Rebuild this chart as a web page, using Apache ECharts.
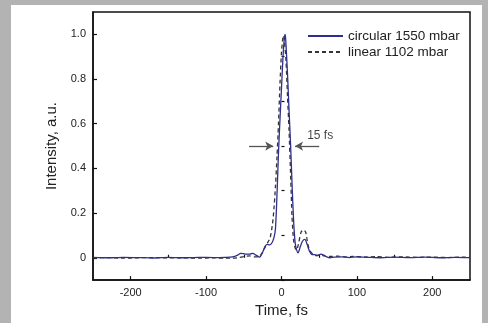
<!DOCTYPE html>
<html>
<head>
<meta charset="utf-8">
<script src="https://cdn.jsdelivr.net/npm/echarts@6/dist/echarts.min.js"></script>
<style>
html,body{margin:0;padding:0;background:#b3b3b3;width:488px;height:323px;overflow:hidden;}
#chart{position:absolute;left:11px;top:5px;width:471px;height:318px;background:#fff;}
</style>
</head>
<body>
<div id="chart"></div>
<script>
// Circular polarization, 1550 mbar (solid)
const circTime = [-250,-230,-210,-190,-170,-150,-130,-110,-90,-75,-65,-58,-54,-48,-42,-38,-34,-29,-25,-22,-19,-16,-13,-10,-8,-6,-4,-2,0,2,4,5,6,8,10,12,14,16,18,20,22,25,28,31,34,37,40,44,48,52,56,60,64,70,80,90,100,115,130,150,170,190,210,230,250];
const circValues = [0.002,0.0,0.002,0.001,-0.001,0.002,0.0,0.002,0.001,0.002,0.004,0.012,0.02,0.016,0.016,0.02,0.012,0.003,0.025,0.05,0.06,0.058,0.065,0.09,0.13,0.28,0.47,0.62,0.76,0.9,0.99,1.0,0.95,0.82,0.66,0.51,0.33,0.17,0.07,0.035,0.022,0.05,0.075,0.082,0.06,0.03,0.015,0.014,0.01,0.016,0.012,0.004,0.0,0.003,0.004,0.001,0.004,0.002,0.0,0.003,0.001,0.003,0.0,0.002,0.001];
// Linear polarization, 1102 mbar (dashed)
const linTime = [-250,-230,-210,-190,-170,-150,-130,-110,-90,-75,-65,-58,-50,-42,-36,-30,-26,-22,-18,-15,-12,-10,-8,-6,-4,-2,0,2,3,4,6,8,10,12,14,16,18,20,23,26,29,32,35,38,42,46,50,55,60,65,75,85,95,110,125,140,160,180,200,220,240,250];
const linValues = [-0.001,0.001,-0.002,0.0,0.001,-0.001,0.0,-0.002,0.0,-0.002,-0.002,0.0,0.005,0.008,0.004,0.005,0.02,0.045,0.07,0.09,0.15,0.22,0.32,0.45,0.6,0.78,0.92,0.99,0.995,0.97,0.88,0.72,0.57,0.38,0.18,0.08,0.045,0.035,0.07,0.115,0.125,0.115,0.06,0.03,0.015,0.01,0.012,0.01,0.005,0.006,0.007,0.004,0.006,0.003,0.005,0.002,0.004,0.002,0.003,0.001,0.003,0.002];
const seriesNames = ['circular 1550 mbar','linear 1102 mbar'];
const xMajorTicks = [-200,-100,0,100,200];
const xMinorTicks = [-150,-50,50,150];
const yMajorTicks = [0,0.2,0.4,0.6,0.8,1.0];
const yMinorTicks = [-0.1,0.1,0.3,0.5,0.7,0.9];
// FWHM annotation
const fwhmLeftArrow = [[-43,0.5],[-11,0.5]];
const fwhmRightArrow = [[50,0.5],[18,0.5]];
const fwhmLabel = [34,0.545];
const fwhmText = '15 fs';

const circData = circTime.map((t,i)=>[t,circValues[i]]);
const linData = linTime.map((t,i)=>[t,linValues[i]]);

const font = 'Liberation Sans, Arial, sans-serif';
const axisLineStyle = {color:'#111', width:1.5};

const chart = echarts.init(document.getElementById('chart'), null, {renderer:'canvas'});
chart.setOption({
  animation:false,
  backgroundColor:'#fff',
  grid:{left:82, top:7, right:12, bottom:38, show:true, borderColor:'#111', borderWidth:1.5},
  legend:{
    data:seriesNames, orient:'vertical', left:291, top:19,
    itemWidth:35, itemHeight:14, itemGap:2,
    itemStyle:{opacity:0},
    textStyle:{fontFamily:font, fontSize:13.5, color:'#222'}
  },
  xAxis:[{
    type:'value', min:-250, max:250,
    name:'Time, fs', nameLocation:'middle', nameGap:21,
    nameTextStyle:{fontFamily:font, fontSize:15, color:'#222'},
    axisLine:{show:true, onZero:false, lineStyle:axisLineStyle},
    axisTick:{show:true, inside:true, length:4, customValues:xMajorTicks, lineStyle:{color:'#111', width:1.2}},
    axisLabel:{show:true, customValues:xMajorTicks, margin:7, fontFamily:font, fontSize:11, color:'#222'},
    splitLine:{show:false}
  },{
    type:'value', min:-250, max:250, position:'bottom',
    axisLine:{show:false},
    axisTick:{show:true, inside:true, length:3, customValues:xMinorTicks, lineStyle:{color:'#111', width:1.2}},
    axisLabel:{show:false},
    splitLine:{show:false}
  }],
  yAxis:[{
    type:'value', min:-0.1, max:1.1,
    name:'Intensity, a.u.', nameLocation:'middle', nameGap:34,
    nameTextStyle:{fontFamily:font, fontSize:15, color:'#222'},
    axisLine:{show:true, onZero:false, lineStyle:axisLineStyle},
    axisTick:{show:true, inside:true, length:4, customValues:yMajorTicks, lineStyle:{color:'#111', width:1.2}},
    axisLabel:{show:true, customValues:yMajorTicks, margin:7, fontFamily:font, fontSize:11, color:'#222',
      formatter:v=> (Math.abs(v)<1e-9 ? '0' : v.toFixed(1))},
    splitLine:{show:false}
  },{
    type:'value', min:-0.1, max:1.1, position:'left',
    axisLine:{show:false},
    axisTick:{show:true, inside:true, length:3, customValues:yMinorTicks, lineStyle:{color:'#111', width:1.2}},
    axisLabel:{show:false},
    splitLine:{show:false}
  }],
  series:[{
    name:seriesNames[1], type:'line', data:linData, symbol:'none', smooth:0.25,
    xAxisIndex:0, yAxisIndex:0,
    lineStyle:{color:'#333', width:1.3, type:[4,3]},
    itemStyle:{color:'#333'},
    z:2,
    markLine:{
      silent:true, symbol:['none','arrow'], symbolSize:[7,8],
      label:{show:false},
      lineStyle:{color:'#555', width:1.3, type:'solid'},
      data:[
        [{coord:fwhmLeftArrow[0]},{coord:fwhmLeftArrow[1]}],
        [{coord:fwhmRightArrow[0]},{coord:fwhmRightArrow[1]}]
      ]
    }
  },{
    name:seriesNames[0], type:'line', data:circData, symbol:'none', smooth:0.25,
    xAxisIndex:0, yAxisIndex:0,
    lineStyle:{color:'#2e2e8c', width:1.3, type:'solid'},
    itemStyle:{color:'#2e2e8c'},
    z:3
  },{
    name:'label', type:'scatter', data:[fwhmLabel], symbolSize:0,
    itemStyle:{color:'transparent'},
    label:{show:true, position:'right', distance:0, formatter:fwhmText, fontFamily:font, fontSize:12, color:'#111'},
    silent:true
  }]
});
</script>
</body>
</html>
